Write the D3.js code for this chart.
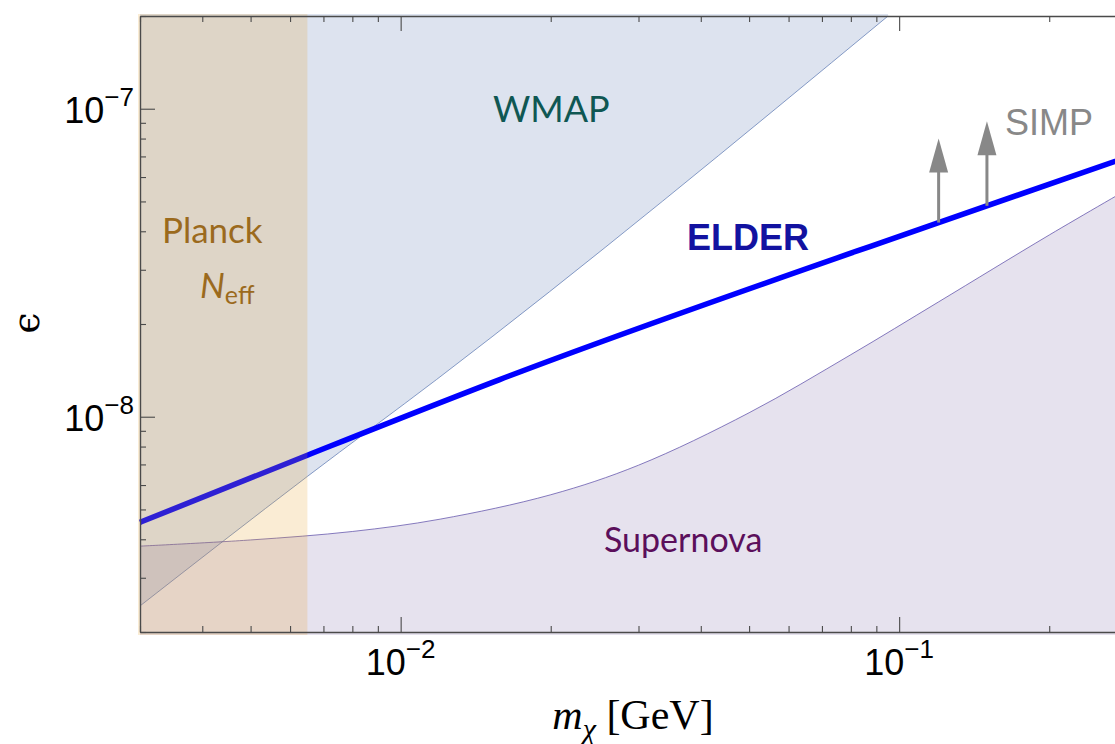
<!DOCTYPE html>
<html>
<head>
<meta charset="utf-8">
<script src="https://cdn.jsdelivr.net/npm/d3@7"></script>
<style>
  body { margin: 0; background: #fff; }
  svg { display: block; }
</style>
</head>
<body>
<svg id="chart" width="1115" height="744"></svg>
<script>
// values (m in GeV, epsilon)
const wmapM   = [0.003, 0.0065, 0.0118, 0.095];
const wmapEps = [2.43e-9, 6.4e-9, 1.32e-8, 2.0e-7];

const snM   = [0.003, 0.005, 0.008, 0.012, 0.02, 0.03, 0.05, 0.08, 0.12, 0.2, 0.3];
const snEps = [3.8e-9, 3.98e-9, 4.24e-9, 4.65e-9, 5.58e-9, 6.96e-9, 1.03e-8, 1.59e-8, 2.36e-8, 3.89e-8, 5.7e-8];

const elderM   = [0.003, 0.0065, 0.0158, 0.12, 0.3];
const elderEps = [4.54e-9, 7.5e-9, 1.32e-8, 4.27e-8, 7.14e-8];

const planckMax = 0.0065;

// SIMP arrows: mass and tip
const simpM   = [0.12, 0.15];
const simpTip = [8.0e-8, 9.1e-8];

const xMajor = [0.01, 0.1];
const xMajorLabels = ['-2', '-1'];
const yMajor = [1e-8, 1e-7];
const yMajorLabels = ['-8', '-7'];

const svg = d3.select('#chart');
const pLeft = 140, pRight = 1137, pTop = 16, pBottom = 632;

const x = d3.scaleLog().domain([0.003, 0.3]).range([pLeft, pRight]);
const y = d3.scaleLog().domain([2e-9, 2e-7]).range([pBottom, pTop]);

const zip = (a, b) => a.map((v, i) => [v, b[i]]);
const wmap = zip(wmapM, wmapEps);
const sn = zip(snM, snEps);
const elder = zip(elderM, elderEps);

// log-log interpolation along elder line
const elderAt = m => {
  for (let i = 0; i < elder.length - 1; i++) {
    const [m0, e0] = elder[i], [m1, e1] = elder[i + 1];
    if (m >= m0 && m <= m1) {
      const t = Math.log(m / m0) / Math.log(m1 / m0);
      return Math.exp(Math.log(e0) + t * Math.log(e1 / e0));
    }
  }
  return elder[elder.length - 1][1];
};

svg.append('defs').append('clipPath').attr('id', 'plot')
  .append('rect').attr('x', pLeft - 2).attr('y', pTop - 2)
  .attr('width', pRight - pLeft + 4).attr('height', pBottom - pTop + 5);

const plot = svg.append('g').attr('clip-path', 'url(#plot)');

const line = d3.line().x(d => x(d[0])).y(d => y(d[1])).curve(d3.curveMonotoneX);
const snCurve = d3.curveCatmullRom.alpha(0.5);

// WMAP excluded region (above its line)
plot.append('path')
  .datum(wmap)
  .attr('d', d3.area().x(d => x(d[0])).y0(pTop - 2).y1(d => y(d[1])).curve(d3.curveMonotoneX))
  .attr('fill', 'rgb(85,115,175)').attr('fill-opacity', 0.2);
plot.append('path').datum(wmap).attr('d', line)
  .attr('fill', 'none').attr('stroke', 'rgb(85,115,175)').attr('stroke-opacity', 0.7).attr('stroke-width', 1);

// Supernova region (below its curve)
plot.append('path')
  .datum(sn)
  .attr('d', d3.area().x(d => x(d[0])).y0(pBottom + 3).y1(d => y(d[1])).curve(snCurve))
  .attr('fill', 'rgb(130,110,170)').attr('fill-opacity', 0.2);
plot.append('path').datum(sn).attr('d', d3.line().x(d => x(d[0])).y(d => y(d[1])).curve(snCurve))
  .attr('fill', 'none').attr('stroke', 'rgb(95,80,170)').attr('stroke-opacity', 0.75).attr('stroke-width', 1);

// ELDER line
plot.append('path').datum(elder).attr('d', line)
  .attr('fill', 'none').attr('stroke', '#0000ff').attr('stroke-width', 5.5);

// Planck N_eff band on top
plot.append('rect')
  .attr('x', x(0.003) - 2).attr('y', pTop - 2)
  .attr('width', x(planckMax) - x(0.003) + 2).attr('height', pBottom - pTop + 5)
  .attr('fill', 'rgb(228,162,40)').attr('fill-opacity', 0.2);

// SIMP arrows
const arrows = svg.append('g').attr('fill', '#888').attr('stroke', '#888');
simpM.forEach((m, i) => {
  const xa = x(m), yb = y(elderAt(m)), yt = y(simpTip[i]);
  arrows.append('line').attr('x1', xa).attr('x2', xa).attr('y1', yb).attr('y2', yt + 20)
    .attr('stroke-width', 3);
  arrows.append('path').attr('stroke', 'none')
    .attr('d', `M${xa},${yt}L${xa - 9.5},${yt + 34}L${xa + 9.5},${yt + 34}Z`);
});

// axes
const axisColor = '#4a4a4a';
const styleAxis = (g, majors) => {
  g.select('.domain').attr('stroke', axisColor).attr('stroke-width', 1.4);
  g.selectAll('.tick line').attr('stroke', axisColor).attr('stroke-width', 1.1);
  g.selectAll('.tick').filter(d => majors.some(v => Math.abs(v - d) / v < 1e-6))
    .classed('major', true);
};

const gx = svg.append('g').attr('transform', `translate(0,${pBottom})`)
  .call(d3.axisBottom(x).tickValues(x.ticks()).tickSizeInner(-6).tickSizeOuter(0).tickFormat(''));
styleAxis(gx, xMajor);
gx.selectAll('.tick.major line').attr('y2', -15);

const gxTop = svg.append('g').attr('transform', `translate(0,${pTop})`)
  .call(d3.axisTop(x).tickValues(x.ticks()).tickSizeInner(-6).tickSizeOuter(0).tickFormat(''));
styleAxis(gxTop, xMajor);
gxTop.selectAll('.tick.major line').attr('y2', 15);

const gy = svg.append('g').attr('transform', `translate(${pLeft},0)`)
  .call(d3.axisLeft(y).tickValues(y.ticks()).tickSizeInner(-6).tickSizeOuter(0).tickFormat(''));
styleAxis(gy, yMajor);
gy.selectAll('.tick.major line').attr('x2', 15);

// power-of-ten labels
const tickFont = '"Liberation Sans", Arial, sans-serif';
const powLabel = (sel, exp) => {
  sel.append('tspan').text('10');
  sel.append('tspan').attr('font-size', 26).attr('dy', -17).text(exp.replace('-', '\u2212'));
};
xMajor.forEach((v, i) => {
  svg.append('text').attr('x', x(v)).attr('y', pBottom + 43)
    .attr('text-anchor', 'middle').attr('font-family', tickFont).attr('font-size', 36)
    .call(powLabel, xMajorLabels[i]);
});
yMajor.forEach((v, i) => {
  svg.append('text').attr('x', pLeft - 6).attr('y', y(v) + 14)
    .attr('text-anchor', 'end').attr('font-family', tickFont).attr('font-size', 36)
    .call(powLabel, yMajorLabels[i]);
});

// axis titles
const serif = '"Liberation Serif", "Times New Roman", serif';
const xt = svg.append('text').attr('x', 633).attr('y', 729).attr('text-anchor', 'middle')
  .attr('font-family', serif).attr('font-size', 42);
xt.append('tspan').attr('font-style', 'italic').text('m');
xt.append('tspan').attr('font-style', 'italic').attr('font-size', 30).attr('dy', 10).text('\u03c7');
xt.append('tspan').attr('dy', -10).text(' [GeV]');

svg.append('text').attr('transform', 'translate(39,323) rotate(-90)')
  .attr('text-anchor', 'middle').attr('font-family', '"DejaVu Serif", serif').attr('font-size', 38)
  .text('\u03f5');

// region labels
const human = 'Lato, "Open Sans", sans-serif';
svg.append('text').attr('x', 493).attr('y', 122).attr('font-family', human).attr('font-size', 36)
  .attr('fill', '#0f5753').text('WMAP');
svg.append('text').attr('x', 687).attr('y', 250).attr('font-family', tickFont).attr('font-size', 36)
  .attr('font-weight', 'bold').attr('fill', '#1212a0').text('ELDER');
svg.append('text').attr('x', 162).attr('y', 243).attr('font-family', human).attr('font-size', 35)
  .attr('fill', '#9b6a1d').text('Planck');
const ne = svg.append('text').attr('x', 200).attr('y', 298).attr('font-family', human).attr('font-size', 35)
  .attr('fill', '#9b6a1d');
ne.append('tspan').attr('font-style', 'italic').text('N');
ne.append('tspan').attr('font-size', 25).attr('dy', 6).text('eff');
svg.append('text').attr('x', 604).attr('y', 552).attr('font-family', human).attr('font-size', 34)
  .attr('fill', '#5b0f5b').text('Supernova');
svg.append('text').attr('x', 1005).attr('y', 135).attr('font-family', tickFont).attr('font-size', 36)
  .attr('fill', '#888').text('SIMP');
</script>
</body>
</html>
